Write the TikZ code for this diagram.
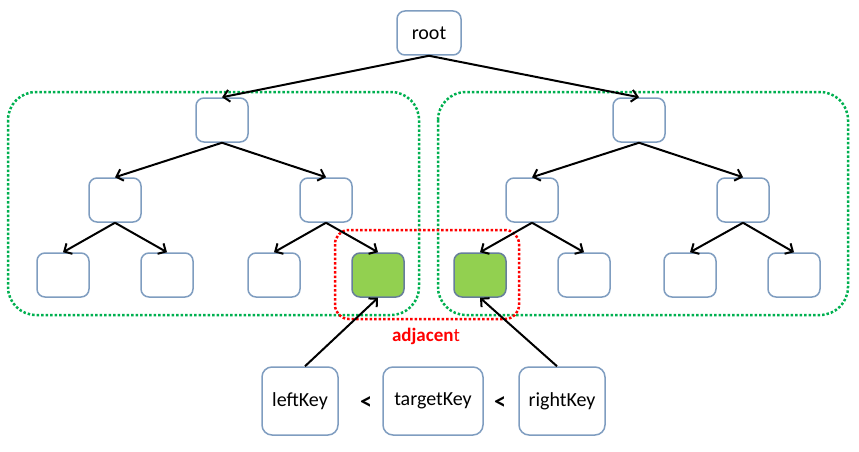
\documentclass[tikz,border=0pt]{standalone}
\usepackage{fontspec}
\setmainfont{Carlito}
\usetikzlibrary{arrows.meta}
\definecolor{boxline}{HTML}{7F9DC0}
\definecolor{leafgreen}{HTML}{92D050}
\definecolor{grpgreen}{HTML}{00B050}
\tikzset{
  tnode/.style={draw=boxline, line width=1.5pt, rounded corners=8pt, minimum width=52pt, minimum height=44pt, inner sep=0pt, fill=white},
  hnode/.style={tnode, fill=leafgreen, draw=boxline!80!black},
  keybox/.style={draw=boxline, line width=1.5pt, rounded corners=10pt, minimum height=68pt, inner sep=0pt, font=\fontsize{20}{24}\selectfont},
  edge/.style={line width=2pt, -{Straight Barb[length=6pt,width=12pt,line width=2pt]}},
  grp/.style={draw=grpgreen, line width=2.5pt, dotted, rounded corners=28pt},
  adj/.style={draw=red, line width=2.5pt, dotted, rounded corners=14pt},
}
\begin{document}
\begin{tikzpicture}[x=1pt,y=-1pt]
\useasboundingbox (0,0) rectangle (859,452);
% groups
\draw[grp] (8,92) rectangle (419,315);
\draw[grp] (438,92) rectangle (848,315);
\draw[adj] (335,230) rectangle (519,319);
% nodes
\node[tnode, minimum width=64pt, font=\fontsize{20}{24}\selectfont] (root) at (429,33) {root};
\node[tnode] (a) at (222,120) {};
\node[tnode] (b) at (639,120) {};
\node[tnode] (aa) at (115,200) {};
\node[tnode] (ab) at (326,200) {};
\node[tnode] (ba) at (532,200) {};
\node[tnode] (bb) at (743,200) {};
\node[tnode] (l1) at (63,275) {};
\node[tnode] (l2) at (167,275) {};
\node[tnode] (l3) at (274,275) {};
\node[hnode] (l4) at (378,275) {};
\node[hnode] (l5) at (480,275) {};
\node[tnode] (l6) at (584,275) {};
\node[tnode] (l7) at (690,275) {};
\node[tnode] (l8) at (794,275) {};
% edges
\draw[edge] (root.south) -- (a.north);
\draw[edge] (root.south) -- (b.north);
\draw[edge] (a.south) -- (aa.north);
\draw[edge] (a.south) -- (ab.north);
\draw[edge] (b.south) -- (ba.north);
\draw[edge] (b.south) -- (bb.north);
\draw[edge] (aa.south) -- (l1.north);
\draw[edge] (aa.south) -- (l2.north);
\draw[edge] (ab.south) -- (l3.north);
\draw[edge] (ab.south) -- (l4.north);
\draw[edge] (ba.south) -- (l5.north);
\draw[edge] (ba.south) -- (l6.north);
\draw[edge] (bb.south) -- (l7.north);
\draw[edge] (bb.south) -- (l8.north);
% label
\node[text=red, font=\fontsize{19}{22}\selectfont] (adjl) at (426,336) {\textbf{adjacen}t};
% keys
\node[keybox, minimum width=76pt] (lk) at (300,401) {leftKey};
\node[keybox, minimum width=100pt] (tk) at (433,401) {targetKey};
\node[keybox, minimum width=86pt] (rk) at (562,401) {rightKey};
\node[font=\fontsize{24}{28}\selectfont\bfseries] (lt1) at (366,403) {<};
\node[font=\fontsize{24}{28}\selectfont\bfseries] (lt2) at (500,403) {<};
\draw[edge] ([xshift=5pt]lk.north) -- (l4.south);
\draw[edge] ([xshift=-5pt]rk.north) -- (l5.south);
\end{tikzpicture}
\end{document}
